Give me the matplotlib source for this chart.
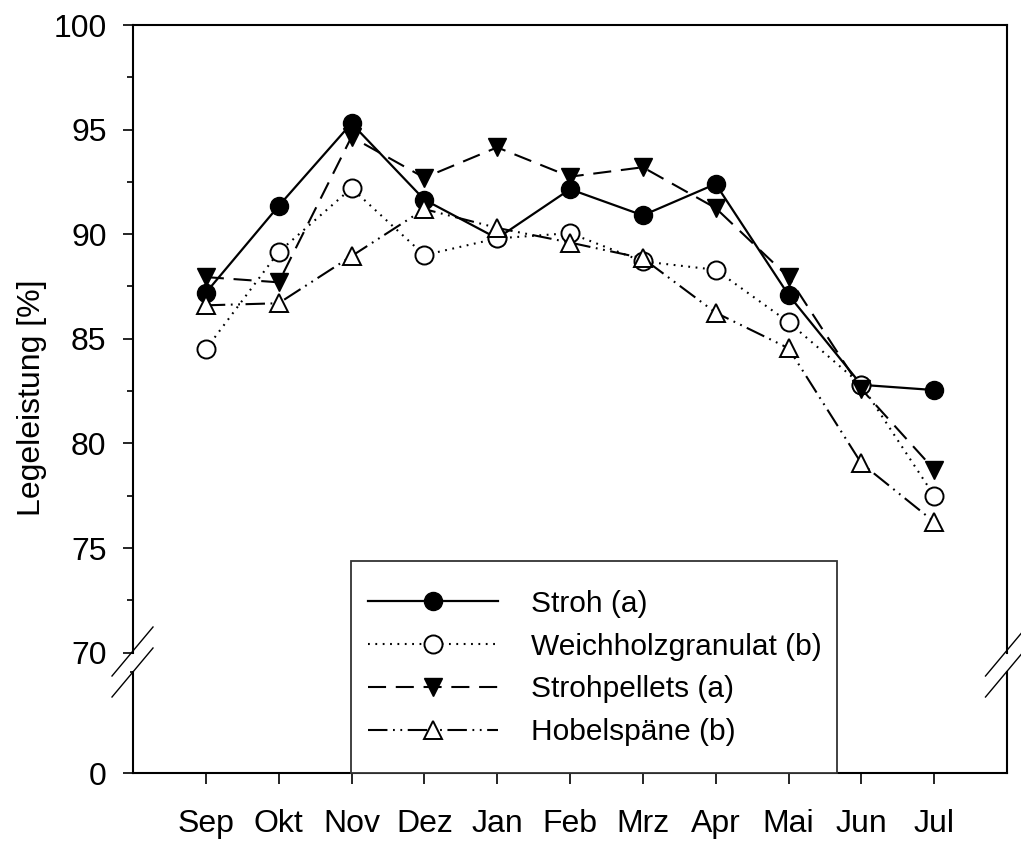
import matplotlib
matplotlib.use("Agg")
import matplotlib.pyplot as plt
from matplotlib.lines import Line2D
from matplotlib.patches import Rectangle

plt.rcParams['font.family'] = ['Liberation Sans', 'DejaVu Sans']
plt.rcParams['lines.scale_dashes'] = False

months = ['Sep', 'Okt', 'Nov', 'Dez', 'Jan', 'Feb', 'Mrz', 'Apr', 'Mai', 'Jun', 'Jul']

stroh = [87.2, 91.35, 95.3, 91.65, 89.8, 92.15, 90.9, 92.4, 87.1, 82.8, 82.55]
weichholz = [84.5, 89.15, 92.2, 89.0, 89.8, 90.05, 88.7, 88.3, 85.8, 82.8, 77.5]
strohpellets = [87.95, 87.7, 94.65, 92.7, 94.15, 92.75, 93.2, 91.25, 87.95, 82.6, 78.75]
hobelspaene = [86.6, 86.7, 88.95, 91.2, 90.3, 89.6, 88.85, 86.25, 84.55, 79.05, 76.25]

labels = ['Stroh (a)', 'Weichholzgranulat (b)', 'Strohpellets (a)', 'Hobelspäne (b)']

W, H = 1021, 844
FS = 23
LEG_FS = 21.5


def fx(px):
    return px / W


def fy(py):
    return 1 - py / H


fig = plt.figure(figsize=(W / 100, H / 100), dpi=100)

# upper part 70..100, lower part 0..  with a break in between
left, right = 133, 1007
ax = fig.add_axes([fx(left), fy(652.6), fx(right - left), (652.6 - 25) / H])
axb = fig.add_axes([fx(left), fy(773.3), fx(right - left), (773.3 - 672) / H])

x = list(range(len(months)))
ax.plot(x, stroh, color='black', lw=1.6, marker='o', ms=13,
        mfc='black', mec='black', label=labels[0])
ax.plot(x, weichholz, color='black', lw=1.5, ls=(0, (1.3, 4)), marker='o', ms=13,
        mfc='white', mec='black', mew=1.4, label=labels[1])
ax.plot(x, strohpellets, color='black', lw=1.5, ls=(0, (13, 7)), marker='v', ms=13,
        mfc='black', mec='black', label=labels[2])
ax.plot(x, hobelspaene, color='black', lw=1.5, ls=(0, (14, 4, 1.3, 4, 1.3, 4)), marker='^', ms=13,
        mfc='white', mec='black', mew=1.4, label=labels[3])

for a in (ax, axb):
    a.set_xlim(-1, 11)
    for s in a.spines.values():
        s.set_linewidth(1.5)
    a.tick_params(axis='y', which='major', direction='out', length=7, width=1.2,
                  labelsize=FS, pad=12)
    a.tick_params(axis='y', which='minor', direction='out', length=4, width=1.2)

ax.set_ylim(70, 100)
ax.set_yticks([70, 75, 80, 85, 90, 95, 100])
ax.set_yticks([72.5, 77.5, 82.5, 87.5, 92.5, 97.5], minor=True)
ax.spines['bottom'].set_visible(False)
ax.tick_params(axis='x', which='both', bottom=False, labelbottom=False)

axb.set_ylim(0, 10)
axb.set_yticks([0])
axb.set_yticks([10], minor=True)
axb.tick_params(axis='y', which='minor', length=2)
axb.spines['top'].set_visible(False)
axb.set_xticks(x)
axb.set_xticklabels(months)
axb.tick_params(axis='x', direction='out', length=8, width=1.2, labelsize=FS, pad=18)

# break marks on both side spines
for sx in (left, right - 0.5):
    for sy in (651, 672):
        fig.add_artist(Line2D([fx(sx - 21), fx(sx + 20)], [fy(sy + 25), fy(sy - 24)],
                              color='black', lw=1.0, transform=fig.transFigure))

fig.text(fx(32), fy(398), 'Legeleistung [%]', rotation=90, ha='center', va='center',
         fontsize=FS)

# legend box sits on the x axis
box = Rectangle((fx(351), fy(773)), fx(836.5 - 351), (773 - 560.5) / H,
                transform=fig.transFigure, facecolor='white', edgecolor='#333333',
                lw=1.3, zorder=4)
fig.add_artist(box)
handles, lbls = ax.get_legend_handles_labels()
leg = fig.legend(handles, lbls, loc='center left', bbox_to_anchor=(fx(351), fy(668)),
                 frameon=False, fontsize=LEG_FS, handlelength=4.35, handletextpad=1.1,
                 labelspacing=0.5, borderpad=0.57, borderaxespad=0)
leg.set_zorder(5)

fig.savefig('out.png', dpi=100, facecolor='white')
